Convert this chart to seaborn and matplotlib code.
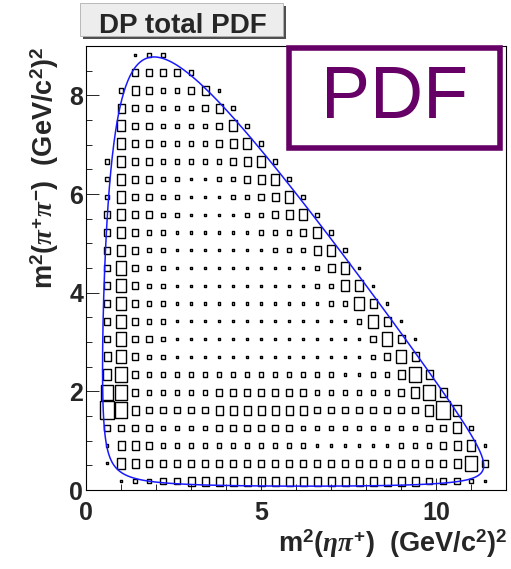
import numpy as np
import pandas as pd
import matplotlib
matplotlib.use('Agg')
import matplotlib.pyplot as plt
from matplotlib.patches import Rectangle
import seaborn as sns

# DP histogram binning (GeV^2/c^4)
x_edges = np.linspace(0, 12, 31)   # m2(eta pi+), 30 bins
y_edges = np.linspace(0, 9, 26)    # m2(pi+ pi-), 25 bins

# box size per bin: 0 = empty, 8 = box fills the bin
# one string per m2(pi+pi-) bin, top row first, one char per m2(eta pi+) bin
pdf_rows = [
    "000122",
    "00033332",
    "0024322341",
    "00433222342",
    "005332222352",
    "0053322223452",
    "02533222223452",
    "025332211223452",
    "0253322111223452",
    "03533221111223452",
    "035322111111222352",
    "0353221111111222452",
    "03632211111111112451",
    "036322111111111122551",
    "0363221111111111122641",
    "03632211111111111112641",
    "036332111111111111113641",
    "046322111111111111112364",
    "0573222222222222221122474",
    "07732222233333332222223574",
    "087433333444444433333333585",
    "0333322223333332222222223352",
    "01443222222222221111112223451",
    "01543333333333333333333333473",
    "0012233" + "44444444444444444" + "33321",
]

# chi_c1 -> eta pi+ pi- masses (GeV/c^2), used for the kinematic boundary
m_parent = 3.5107
m_eta = 0.5479
m_pi = 0.1396

title_text = "DP total PDF"
x_title = r"m$^{2}$($\eta\pi^{+}$)  (GeV/c$^{2}$)$^{2}$"
y_title = r"m$^{2}$($\pi^{+}\pi^{-}$)  (GeV/c$^{2}$)$^{2}$"


def dalitz_boundary(M, m1, m2, m3, n=600):
    lo, hi = (m1 + m2) ** 2, (M - m3) ** 2
    t = np.linspace(0, np.pi, n)
    s12 = lo + (hi - lo) * (1 - np.cos(t)) / 2
    e2 = (s12 - m1 ** 2 + m2 ** 2) / (2 * np.sqrt(s12))
    e3 = (M ** 2 - s12 - m3 ** 2) / (2 * np.sqrt(s12))
    p2 = np.sqrt(np.clip(e2 ** 2 - m2 ** 2, 0, None))
    p3 = np.sqrt(np.clip(e3 ** 2 - m3 ** 2, 0, None))
    s23_hi = (e2 + e3) ** 2 - (p2 - p3) ** 2
    s23_lo = (e2 + e3) ** 2 - (p2 + p3) ** 2
    bx = np.concatenate([s12, s12[::-1], s12[:1]])
    by = np.concatenate([s23_hi, s23_lo[::-1], s23_hi[:1]])
    return pd.DataFrame({'x': bx, 'y': by})


# histogram cells -> long table
x_centres = (x_edges[:-1] + x_edges[1:]) / 2
y_centres = (y_edges[:-1] + y_edges[1:]) / 2
records = []
for j, row in enumerate(pdf_rows[::-1]):
    for k, ch in enumerate(row):
        if ch != '0':
            records.append((x_centres[k], y_centres[j], int(ch)))
cells = pd.DataFrame(records, columns=['m2_etapi', 'm2_pipi', 'level'])

sns.set_style('ticks')
plt.rcParams['font.family'] = ['Liberation Sans', 'DejaVu Sans']
plt.rcParams['font.weight'] = 'bold'
plt.rcParams['mathtext.fontset'] = 'custom'
plt.rcParams['mathtext.rm'] = 'Liberation Sans:bold'
plt.rcParams['mathtext.bf'] = 'Liberation Sans:bold'
plt.rcParams['mathtext.it'] = 'Liberation Serif:italic'

W, H, DPI = 511, 569, 100
fig = plt.figure(figsize=(W / DPI, H / DPI), dpi=DPI, facecolor='white')
L, R, T, B = 86, 506, 46, 490
ax = fig.add_axes([L / W, 1 - B / H, (R - L) / W, (B - T) / H])
ax.set_facecolor('white')

# box marker with the aspect ratio of one bin on screen
cell_w = (R - L) / (len(x_edges) - 1)
cell_h = (B - T) / (len(y_edges) - 1)
hw = 0.5 * cell_w / cell_h
box = [(-hw, -0.5), (hw, -0.5), (hw, 0.5), (-hw, 0.5), (-hw, -0.5)]
full_pt = cell_h * 72 / DPI
size_map = {lv: (lv / 8 * full_pt) ** 2 for lv in range(1, 9)}

sns.scatterplot(data=cells, x='m2_etapi', y='m2_pipi', size='level',
                sizes=size_map, marker=box, facecolor='none',
                edgecolor='black', linewidth=1.0, legend=False, ax=ax,
                zorder=2)

bound = dalitz_boundary(m_parent, m_eta, m_pi, m_pi)
sns.lineplot(data=bound, x='x', y='y', sort=False, estimator=None,
             color='#1a1aff', linewidth=1.1, ax=ax, zorder=3)

ax.set_xlim(0, 12)
ax.set_ylim(0, 9)
ax.set_xticks([0, 5, 10])
ax.set_xticks(np.arange(0, 12.01, 1), minor=True)
ax.set_yticks([0, 2, 4, 6, 8])
ax.set_yticks(np.arange(0, 9.01, 0.5), minor=True)
ax.tick_params(which='major', direction='in', length=9, width=0.7,
               labelsize=18)
ax.tick_params(which='minor', direction='in', length=4.5, width=0.7)
ax.tick_params(axis='x', which='major', pad=8)
ax.tick_params(axis='y', which='major', pad=2)
for lab in ax.get_xticklabels() + ax.get_yticklabels():
    lab.set_fontweight('bold')
ax.set_xlabel('')
ax.set_ylabel('')
for sp in ax.spines.values():
    sp.set_visible(True)
    sp.set_linewidth(0.8)
    sp.set_color('black')

fig.text(508 / W, 1 - 552.5 / H, x_title, ha='right', va='baseline',
         fontsize=19.5, fontweight='bold')
fig.text(45 / W, 1 - 47 / H, y_title, ha='center', va='top', rotation=90,
         fontsize=19.5, fontweight='bold')

# title pad
fig.add_artist(Rectangle((83 / W, 1 - 39 / H), 203 / W, 33 / H,
                         transform=fig.transFigure, facecolor='#505050',
                         edgecolor='none'))
fig.add_artist(Rectangle((80 / W, 1 - 36 / H), 203 / W, 33 / H,
                         transform=fig.transFigure, facecolor='#ededed',
                         edgecolor='#b0b0b0', linewidth=0.6))
fig.text(183 / W, 1 - 33.3 / H, title_text, ha='center', va='baseline',
         fontsize=20, fontweight='bold')

# "PDF" label box
purple = '#660066'
fig.add_artist(Rectangle((289 / W, 1 - 148 / H), 210.7 / W, 100.5 / H,
                         transform=fig.transFigure, facecolor='white',
                         edgecolor=purple, linewidth=4))
fig.text(394.5 / W, 1 - 118.3 / H, 'PDF', ha='center', va='baseline',
         fontsize=53, fontweight='normal', color=purple)

fig.savefig('out.png', dpi=DPI, facecolor='white')
